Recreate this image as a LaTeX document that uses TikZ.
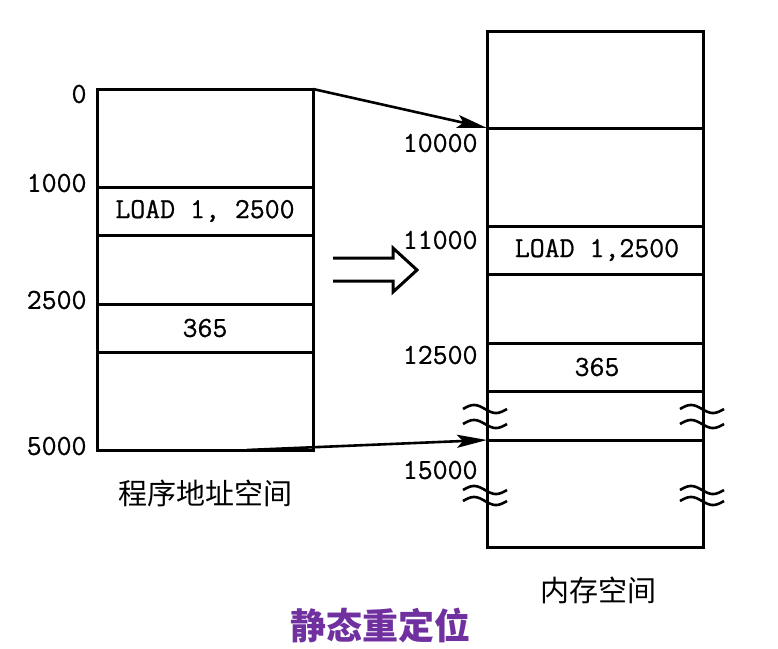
\documentclass[tikz,border=0pt]{standalone}
\usepackage{fontspec}
\newfontfamily\cjk{Noto Sans CJK SC}
\newfontfamily\addrfont[FakeBold=0.8]{Latin Modern Mono}
\usetikzlibrary{arrows.meta}
\definecolor{titlepurple}{RGB}{112,48,160}
\tikzset{
  addr/.style={anchor=east, inner sep=0pt, font=\fontsize{29}{29}\addrfont},
  cell/.style={inner sep=0pt, font=\fontsize{29}{29}\addrfont},
  caption/.style={inner sep=0pt, font=\fontsize{29}{29}\cjk},
  maparrow/.style={line width=2.6pt, -{Stealth[length=30pt, width=13pt, inset=6pt]}},
  wave/.style={line width=2.6pt},
}
\begin{document}
\begin{tikzpicture}[x=1pt, y=-1pt, line width=3pt]
            \useasboundingbox (0,0) rectangle (778,648);
            % program address space
            \coordinate (ltop) at (313,89);
            \coordinate (lbot) at (247,450);
            \draw (97,89) rectangle (313,450);
            \draw (97,187)--(313,187);
            \draw (97,235)--(313,235);
            \draw (97,304)--(313,304);
            \draw (97,352)--(313,352);
            \node[addr] (a0) at (88,94) {0};
            \node[addr] (a1000) at (88,183) {1000};
            \node[addr] (a2500) at (88,300) {2500};
            \node[addr] (a5000) at (88,446) {5000};
            \node[cell] (lload) at (205,211) {LOAD 1, 2500};
            \node[cell] (ldata) at (205,328) {365};
            \node[caption] (lcap) at (205,493) {程序地址空间};
            % memory space
            \coordinate (r10000) at (487,128);
            \coordinate (r15000) at (487,440);
            \draw (487,31) rectangle (703,547);
            \draw (487,128)--(703,128);
            \draw (487,226)--(703,226);
            \draw (487,274)--(703,274);
            \draw (487,343)--(703,343);
            \draw (487,391)--(703,391);
            \draw (487,440)--(703,440);
            \node[addr] (m10000) at (479,143) {10000};
            \node[addr] (m11000) at (479,240) {11000};
            \node[addr] (m12500) at (479,355) {12500};
            \node[addr] (m15000) at (479,470) {15000};
            \node[cell] (mload) at (597,250) {LOAD 1,2500};
            \node[cell] (mdata) at (597,367) {365};
            \node[caption] (mcap) at (598,590) {内存空间};
            % break marks
            \foreach \cx in {485,702}
                \foreach \cy in {409,424,490,501}
                    \draw[wave, domain=-22:22, samples=30, variable=\t] plot({\cx+\t},{\cy+4*sin(\t*180/22)});
            % relocation
            \draw[maparrow] (ltop)--(r10000);
            \draw[maparrow] (lbot)--(r15000);
            \draw[miter limit=10] (333,258)--(393,258)--(393,248)--(417,270)--(393,292)--(393,281)--(333,281);
            \node[inner sep=0pt, font=\fontsize{36}{36}\cjk\bfseries, text=titlepurple] (title) at (380,625) {静态重定位};
\end{tikzpicture}
\end{document}
